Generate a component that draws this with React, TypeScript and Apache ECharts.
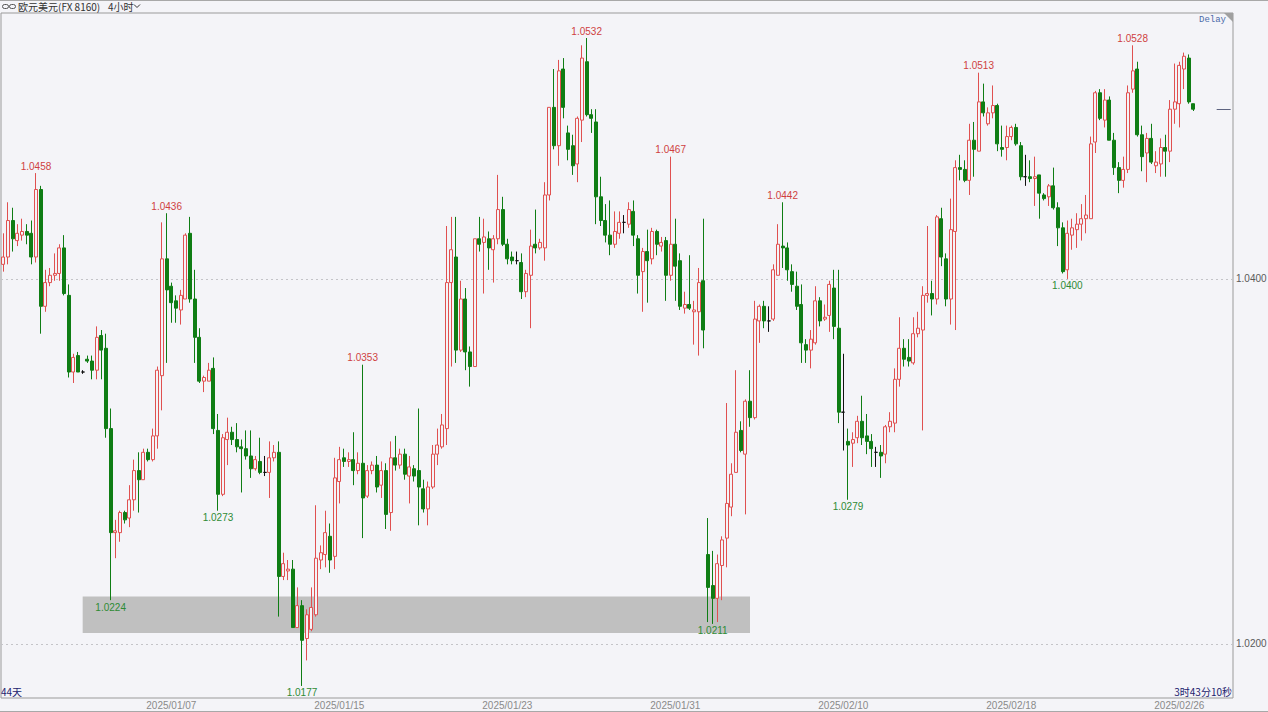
import React, { useEffect, useRef } from "react";
import * as echarts from "echarts";

// Trading days on the axis; each day holds six 4-hour sessions.
const tradingDays = [
  "2024/12/30", "2024/12/31", "2025/01/01", "2025/01/02", "2025/01/03",
  "2025/01/06", "2025/01/07", "2025/01/08", "2025/01/09", "2025/01/10",
  "2025/01/13", "2025/01/14", "2025/01/15", "2025/01/16", "2025/01/17",
  "2025/01/20", "2025/01/21", "2025/01/22", "2025/01/23", "2025/01/24",
  "2025/01/27", "2025/01/28", "2025/01/29", "2025/01/30", "2025/01/31",
  "2025/02/03", "2025/02/04", "2025/02/05", "2025/02/06", "2025/02/07",
  "2025/02/10", "2025/02/11", "2025/02/12", "2025/02/13", "2025/02/14",
  "2025/02/17", "2025/02/18", "2025/02/19", "2025/02/20", "2025/02/21",
  "2025/02/24", "2025/02/25", "2025/02/26", "2025/02/27",
];
const sessionHours = ["00:00", "04:00", "08:00", "12:00", "16:00", "20:00"];

// EUR/USD 4-hour candles, [open, high, low, close]
const week0 = [
  [1.0408, 1.0425, 1.0404, 1.0412], [1.0412, 1.0442, 1.0408, 1.0432], [1.0432, 1.0439, 1.0415, 1.0422],
  [1.0421, 1.043, 1.0418, 1.0425], [1.0424, 1.0433, 1.0421, 1.0426], [1.0426, 1.043, 1.0419, 1.0424],
  [1.0425, 1.0432, 1.0408, 1.0412], [1.0412, 1.0458, 1.0409, 1.0449], [1.0449, 1.0451, 1.037, 1.0385],
  [1.0385, 1.0405, 1.0382, 1.0398], [1.0398, 1.0406, 1.0396, 1.0402], [1.0402, 1.0414, 1.0399, 1.0403],
  [1.0403, 1.0419, 1.0399, 1.0417], [1.0417, 1.0424, 1.0391, 1.0392], [1.0391, 1.0397, 1.0346, 1.0349],
  [1.0349, 1.0359, 1.0343, 1.0357], [1.0358, 1.036, 1.0349, 1.0349], [1.0349, 1.035, 1.0348, 1.0349],
  [1.0356, 1.0358, 1.0354, 1.0355], [1.0355, 1.0358, 1.0345, 1.035], [1.035, 1.0374, 1.0345, 1.0368],
  [1.0369, 1.0372, 1.0345, 1.0361], [1.0362, 1.037, 1.0313, 1.0318], [1.0318, 1.0329, 1.0224, 1.0261],
  [1.0261, 1.0268, 1.0247, 1.0262], [1.0261, 1.0273, 1.0256, 1.0272], [1.0272, 1.0273, 1.0266, 1.0268],
  [1.0269, 1.0287, 1.0264, 1.0279], [1.0279, 1.0301, 1.0273, 1.0295], [1.0295, 1.0305, 1.0272, 1.029],
];
const week1 = [
  [1.029, 1.0307, 1.029, 1.0305], [1.0305, 1.0307, 1.03, 1.0301], [1.0301, 1.0318, 1.03, 1.0314],
  [1.0314, 1.0352, 1.0307, 1.035], [1.0347, 1.0431, 1.0328, 1.0411], [1.0411, 1.0436, 1.0354, 1.0394],
  [1.0396, 1.0398, 1.0376, 1.0387], [1.0388, 1.0391, 1.0376, 1.0384], [1.0383, 1.0394, 1.0375, 1.0391],
  [1.0389, 1.0425, 1.0389, 1.0424], [1.0425, 1.0434, 1.0387, 1.0389], [1.0389, 1.0405, 1.0354, 1.0368],
  [1.0368, 1.0373, 1.0343, 1.0344], [1.0344, 1.0347, 1.0338, 1.0346], [1.0344, 1.0354, 1.0344, 1.035],
  [1.0351, 1.0357, 1.0315, 1.0318], [1.0317, 1.0326, 1.0273, 1.0282], [1.0282, 1.0315, 1.0281, 1.0313],
  [1.0312, 1.0324, 1.0298, 1.0316], [1.0316, 1.0319, 1.0309, 1.0312], [1.0312, 1.0321, 1.0305, 1.0308],
  [1.0308, 1.0312, 1.0283, 1.0307], [1.0307, 1.0317, 1.0301, 1.0303], [1.0303, 1.0317, 1.0291, 1.0296],
  [1.0296, 1.0303, 1.0295, 1.0301], [1.03, 1.0313, 1.0293, 1.0294], [1.0294, 1.0303, 1.0292, 1.0294],
  [1.0294, 1.0311, 1.028, 1.0302], [1.0302, 1.0309, 1.03, 1.0305], [1.0305, 1.0311, 1.0215, 1.0237],
];
const week2 = [
  [1.0237, 1.025, 1.0235, 1.0244], [1.024, 1.0246, 1.0235, 1.0241], [1.0241, 1.0246, 1.0209, 1.0209],
  [1.0209, 1.0231, 1.0209, 1.0221], [1.0221, 1.0224, 1.0177, 1.0202], [1.0203, 1.0219, 1.0191, 1.0216],
  [1.0208, 1.0231, 1.0207, 1.022], [1.0216, 1.0276, 1.0215, 1.0247], [1.0246, 1.0254, 1.0241, 1.025],
  [1.0249, 1.0273, 1.0242, 1.0261], [1.0259, 1.0266, 1.0239, 1.0246], [1.0248, 1.0302, 1.0241, 1.0291],
  [1.0289, 1.0308, 1.0277, 1.0301], [1.0302, 1.0307, 1.0297, 1.03], [1.03, 1.0305, 1.0297, 1.0301],
  [1.0301, 1.0316, 1.0287, 1.0295], [1.0295, 1.0305, 1.0293, 1.0299], [1.0299, 1.0353, 1.0258, 1.028],
  [1.0281, 1.0298, 1.028, 1.0295], [1.0295, 1.03, 1.0293, 1.0298], [1.0298, 1.0303, 1.0283, 1.0286],
  [1.0287, 1.03, 1.028, 1.0295], [1.0295, 1.0299, 1.0263, 1.0271], [1.0272, 1.0311, 1.0262, 1.0302],
  [1.0302, 1.0314, 1.0295, 1.0298], [1.0298, 1.0307, 1.0296, 1.0304], [1.0304, 1.0307, 1.029, 1.0293],
  [1.0292, 1.0303, 1.0277, 1.0297], [1.0296, 1.0298, 1.0289, 1.0292], [1.0295, 1.0329, 1.0265, 1.0286],
];
const week3 = [
  [1.0285, 1.029, 1.0272, 1.0274], [1.0274, 1.0289, 1.0265, 1.0286], [1.0286, 1.0309, 1.0285, 1.0304],
  [1.0304, 1.0318, 1.0298, 1.0309], [1.0308, 1.0326, 1.0307, 1.032], [1.0318, 1.0429, 1.0309, 1.0398],
  [1.0398, 1.0434, 1.0352, 1.0416], [1.0412, 1.0434, 1.0354, 1.0361], [1.0361, 1.0399, 1.036, 1.0389],
  [1.0389, 1.0395, 1.035, 1.036], [1.036, 1.0363, 1.0341, 1.0352], [1.0352, 1.0422, 1.0352, 1.0422],
  [1.0422, 1.0434, 1.0415, 1.0419], [1.042, 1.0433, 1.0392, 1.0423], [1.0422, 1.0426, 1.0405, 1.0417],
  [1.0416, 1.0424, 1.0398, 1.0422], [1.0422, 1.0457, 1.0419, 1.0438], [1.0438, 1.0445, 1.0418, 1.0419],
  [1.0419, 1.0422, 1.0408, 1.0411], [1.0412, 1.0415, 1.0408, 1.041], [1.041, 1.0415, 1.0408, 1.041],
  [1.0409, 1.0414, 1.0389, 1.0393], [1.0393, 1.0405, 1.039, 1.0403], [1.0402, 1.0427, 1.0373, 1.0418],
  [1.0419, 1.0438, 1.0414, 1.0417], [1.0417, 1.0422, 1.0416, 1.042], [1.0417, 1.0453, 1.041, 1.0446],
  [1.0446, 1.0494, 1.0443, 1.0494], [1.0494, 1.0515, 1.0471, 1.0473], [1.0473, 1.052, 1.0462, 1.0514],
];
const week4 = [
  [1.0515, 1.0521, 1.0488, 1.0494], [1.048, 1.0484, 1.0465, 1.0471], [1.0473, 1.0479, 1.0457, 1.0462],
  [1.0463, 1.0489, 1.0453, 1.0488], [1.0487, 1.0528, 1.0475, 1.0521], [1.0519, 1.0532, 1.0489, 1.049],
  [1.049, 1.0493, 1.048, 1.0488], [1.0486, 1.0493, 1.043, 1.0445], [1.0445, 1.0456, 1.0429, 1.0432],
  [1.0432, 1.0441, 1.042, 1.0424], [1.0424, 1.0443, 1.0413, 1.0419], [1.0419, 1.0437, 1.0417, 1.0426],
  [1.0425, 1.0437, 1.0422, 1.0431], [1.0431, 1.0435, 1.0425, 1.0431], [1.043, 1.0442, 1.0428, 1.0438],
  [1.0437, 1.0443, 1.0418, 1.0424], [1.0422, 1.0424, 1.0392, 1.0402], [1.0404, 1.0417, 1.0382, 1.0415],
  [1.0415, 1.0427, 1.0387, 1.041], [1.0411, 1.0428, 1.0408, 1.0426], [1.0426, 1.0427, 1.0413, 1.0419],
  [1.0418, 1.0423, 1.0415, 1.042], [1.0421, 1.0423, 1.0388, 1.0402], [1.0402, 1.0467, 1.0399, 1.0419],
  [1.0419, 1.0433, 1.0388, 1.0407], [1.041, 1.0414, 1.0383, 1.0385], [1.0384, 1.0393, 1.0381, 1.0386],
  [1.0386, 1.0413, 1.0383, 1.0384], [1.0382, 1.0388, 1.0364, 1.0383], [1.0382, 1.0406, 1.0358, 1.0398],
];
const week5 = [
  [1.0399, 1.0433, 1.0362, 1.0372], [1.0249, 1.0269, 1.0212, 1.0231], [1.0232, 1.0251, 1.0211, 1.0225],
  [1.0225, 1.0249, 1.0212, 1.0244], [1.0243, 1.0259, 1.0224, 1.0257], [1.0258, 1.0332, 1.0242, 1.0277],
  [1.0275, 1.0299, 1.027, 1.0293], [1.0294, 1.035, 1.0294, 1.0316], [1.0317, 1.0322, 1.0305, 1.0306],
  [1.0304, 1.0334, 1.0271, 1.0333], [1.0333, 1.035, 1.0319, 1.0324], [1.0324, 1.0388, 1.0323, 1.0378],
  [1.0377, 1.0386, 1.0365, 1.0385], [1.0385, 1.0388, 1.0373, 1.0377], [1.0377, 1.0385, 1.0371, 1.0377],
  [1.0378, 1.0408, 1.0377, 1.0405], [1.0402, 1.043, 1.0402, 1.0419], [1.0418, 1.0442, 1.0406, 1.0417],
  [1.0417, 1.042, 1.0399, 1.0405], [1.0404, 1.0408, 1.0393, 1.0397], [1.0396, 1.0404, 1.0383, 1.0385],
  [1.0386, 1.0397, 1.0354, 1.0365], [1.0364, 1.0367, 1.0354, 1.0361], [1.0361, 1.0372, 1.0351, 1.0367],
  [1.0365, 1.0396, 1.0364, 1.0388], [1.0388, 1.039, 1.0374, 1.0377], [1.0378, 1.0386, 1.0377, 1.0379],
  [1.038, 1.0399, 1.0371, 1.0397], [1.0395, 1.0405, 1.0367, 1.0374], [1.0373, 1.0405, 1.0321, 1.0327],
];
const week6 = [
  [1.0327, 1.0359, 1.0306, 1.0327], [1.0311, 1.0318, 1.0279, 1.0309], [1.031, 1.0316, 1.0297, 1.0312],
  [1.0313, 1.0325, 1.031, 1.0322], [1.0322, 1.0336, 1.0309, 1.0313], [1.0314, 1.0326, 1.0304, 1.0311],
  [1.0311, 1.0315, 1.0297, 1.0307], [1.0305, 1.0308, 1.0297, 1.0305], [1.0305, 1.0309, 1.0291, 1.0303],
  [1.0304, 1.032, 1.0299, 1.0319], [1.0319, 1.0327, 1.0316, 1.0322], [1.0321, 1.0351, 1.0316, 1.0345],
  [1.0345, 1.0379, 1.0341, 1.0362], [1.0362, 1.0367, 1.0352, 1.0356], [1.0357, 1.0367, 1.0352, 1.0355],
  [1.0354, 1.0379, 1.0353, 1.037], [1.037, 1.0382, 1.0368, 1.0373], [1.0372, 1.0396, 1.0317, 1.0391],
  [1.0391, 1.0429, 1.0387, 1.0392], [1.0392, 1.0399, 1.038, 1.0389], [1.0389, 1.0435, 1.0386, 1.0434],
  [1.0433, 1.0439, 1.0407, 1.0412], [1.0411, 1.0414, 1.0385, 1.0389], [1.0389, 1.0444, 1.0375, 1.0427],
  [1.0426, 1.0465, 1.0372, 1.0461], [1.0461, 1.0468, 1.0454, 1.046], [1.046, 1.0465, 1.0453, 1.0454],
  [1.0454, 1.0485, 1.0446, 1.0476], [1.0476, 1.0486, 1.0456, 1.0471], [1.047, 1.0513, 1.047, 1.0497],
];
const week7 = [
  [1.0497, 1.0507, 1.0489, 1.0491], [1.0485, 1.0494, 1.0484, 1.0491], [1.0491, 1.0506, 1.0488, 1.0495],
  [1.0495, 1.0496, 1.047, 1.0474], [1.0472, 1.0484, 1.0467, 1.0471], [1.0472, 1.0484, 1.0465, 1.0478],
  [1.0478, 1.0484, 1.0476, 1.0483], [1.0483, 1.0485, 1.0473, 1.0474], [1.0473, 1.0475, 1.0454, 1.0456],
  [1.0456, 1.0468, 1.0451, 1.0456], [1.0456, 1.0465, 1.0453, 1.0455], [1.0455, 1.0467, 1.044, 1.0456],
  [1.0457, 1.0457, 1.0433, 1.0447], [1.0446, 1.0447, 1.0443, 1.0444], [1.0445, 1.0452, 1.044, 1.0451],
  [1.0451, 1.0461, 1.0438, 1.0439], [1.0439, 1.0442, 1.0418, 1.0428], [1.0428, 1.0431, 1.0403, 1.0404],
  [1.0405, 1.0432, 1.04, 1.0425], [1.0424, 1.0433, 1.0416, 1.0428], [1.0427, 1.0436, 1.0417, 1.043],
  [1.043, 1.0441, 1.0421, 1.0433], [1.0433, 1.0446, 1.0425, 1.0435], [1.0433, 1.0478, 1.0433, 1.0474],
  [1.0475, 1.0503, 1.0469, 1.0502], [1.0502, 1.0504, 1.0487, 1.0488], [1.0487, 1.0504, 1.0483, 1.0498],
  [1.0498, 1.05, 1.0476, 1.0476], [1.0476, 1.048, 1.0457, 1.0461], [1.0461, 1.0464, 1.0447, 1.0454],
];
const week8 = [
  [1.0454, 1.0467, 1.045, 1.046], [1.046, 1.0506, 1.0458, 1.0502], [1.0504, 1.0528, 1.0502, 1.0514],
  [1.0515, 1.0519, 1.0478, 1.0479], [1.0479, 1.0484, 1.0459, 1.0467], [1.0469, 1.048, 1.0453, 1.0477],
  [1.0477, 1.0485, 1.0463, 1.0464], [1.0462, 1.047, 1.0458, 1.0464], [1.0463, 1.0477, 1.0456, 1.0472],
  [1.0472, 1.0479, 1.0456, 1.047], [1.047, 1.0498, 1.0464, 1.0493], [1.0493, 1.0518, 1.0485, 1.0497],
  [1.0496, 1.0519, 1.0483, 1.0517], [1.0515, 1.0524, 1.0504, 1.0522], [1.0521, 1.0523, 1.0496, 1.0497],
  [1.0496, 1.0496, 1.0492, 1.0493],
];

// Candles whose high / low is annotated
const swingHighs = [7, 35, 77, 125, 143, 167, 209, 242];
const swingLows = [23, 46, 64, 152, 181, 228];

// Support zone and reference price levels
const supportZone = { from: 17, to: 160, top: 1.0226, bottom: 1.0206 };
const priceLevels = [1.04, 1.02];

const BG = "#f4f4f8";
const UP = "#e05050";
const DOWN = "#0f7d14";
const LABEL_UP = "#cf3f3f";
const LABEL_DOWN = "#2e8b34";
const NAVY = "#23236e";

const ohlc = [...week0, ...week1, ...week2, ...week3, ...week4, ...week5, ...week6, ...week7, ...week8];
const categories = tradingDays.flatMap((d) => sessionHours.map((h) => `${d} ${h}`));
const lastClose = ohlc[ohlc.length - 1][3];

function buildOption(): echarts.EChartsOption {
  const candleData = ohlc.map(([o, h, l, c]) => [o, c, l, h]);
  const swingPoints = [
    ...swingHighs.map((k) => ({
      coord: [k, ohlc[k][1]],
      value: ohlc[k][1],
      label: { position: "top" as const, color: LABEL_UP, distance: 2 },
    })),
    ...swingLows.map((k) => ({
      coord: [k, ohlc[k][2]],
      value: ohlc[k][2],
      label: { position: "bottom" as const, color: LABEL_DOWN, distance: 2 },
    })),
  ];
  const lastSlot = categories.length - 1;

  return {
    animation: false,
    backgroundColor: BG,
    grid: {
      left: 1,
      right: 35,
      top: 13,
      bottom: 14,
      show: true,
      borderColor: "#9a9a9a",
      borderWidth: 1,
      backgroundColor: "transparent",
    },
    xAxis: {
      type: "category",
      data: categories,
      boundaryGap: true,
      axisLine: { show: false },
      axisTick: { show: false },
      splitLine: { show: false },
      axisLabel: {
        interval: (index: number) => index > 0 && index % 36 === 0,
        formatter: (v: string) => v.slice(0, 10),
        color: "#8a8a8a",
        fontSize: 10,
        fontFamily: "Liberation Sans",
        margin: 2,
      },
    },
    yAxis: {
      type: "value",
      position: "right",
      min: 1.01704,
      max: 1.05457,
      axisLine: { show: false },
      axisTick: { show: false },
      axisLabel: { show: false },
      splitLine: { show: false },
    },
    series: [
      {
        type: "candlestick",
        data: candleData,
        barWidth: 3.4,
        z: 2,
        itemStyle: {
          color: BG,
          color0: DOWN,
          borderColor: UP,
          borderColor0: DOWN,
          borderColorDoji: "#111111",
          borderWidth: 1,
        },
        markArea: {
          silent: true,
          z: 1,
          itemStyle: { color: "#c0c0c0", opacity: 1 },
          data: [
            [
              { coord: [supportZone.from, supportZone.top] },
              { coord: [supportZone.to, supportZone.bottom] },
            ],
          ] as any,
        },
        markLine: {
          silent: true,
          z: 1,
          symbol: "none",
          animation: false,
          data: [
            ...priceLevels.map((v) => ({
              yAxis: v,
              lineStyle: { color: "#c4c4c8", type: [2, 3] as any, width: 1 },
              label: {
                show: true,
                position: "end" as const,
                distance: 3,
                formatter: () => v.toFixed(4),
                color: "#5a5a5a",
                fontSize: 10,
                fontFamily: "Liberation Sans",
              },
            })),
            [
              {
                coord: [lastSlot - 3, lastClose],
                lineStyle: { color: "#5d6380", type: "solid" as const, width: 1 },
                label: { show: false },
              },
              { coord: [lastSlot, lastClose] },
            ],
          ] as any,
        },
        markPoint: {
          silent: true,
          symbol: "circle",
          symbolSize: 0,
          label: {
            show: true,
            fontSize: 10,
            fontFamily: "Liberation Sans",
            formatter: (p: any) => Number(p.value).toFixed(4),
          },
          data: swingPoints as any,
        },
      },
    ],
    graphic: [
      { type: "line", shape: { x1: 0, y1: 0.5, x2: 1268, y2: 0.5 }, style: { stroke: "#a8a8a8" }, silent: true },
      { type: "line", shape: { x1: 0, y1: 711.5, x2: 1268, y2: 711.5 }, style: { stroke: "#a8a8a8" }, silent: true },
      { type: "rect", shape: { x: 2.5, y: 4.5, width: 6, height: 4, r: 2 }, style: { fill: "none", stroke: "#555", lineWidth: 1 } },
      { type: "rect", shape: { x: 9.5, y: 4.5, width: 6, height: 4, r: 2 }, style: { fill: "none", stroke: "#555", lineWidth: 1 } },
      {
        type: "text",
        x: 18,
        y: 6.5,
        style: { text: "欧元美元(FX 8160)", font: '10px "Noto Sans CJK SC"', fill: "#333", textVerticalAlign: "middle" },
      },
      {
        type: "text",
        x: 108,
        y: 6.5,
        style: { text: "4小时", font: '10px "Noto Sans CJK SC"', fill: "#333", textVerticalAlign: "middle" },
      },
      { type: "polyline", shape: { points: [[134, 4.5], [137, 7.5], [140, 4.5]] }, style: { stroke: "#333", fill: "none", lineWidth: 1 } },
      { type: "polygon", shape: { points: [[1224, 13], [1233, 13], [1233, 22]] }, style: { fill: "#a0a0a0" }, silent: true },
      {
        type: "text",
        x: 1226,
        y: 20,
        style: { text: "Delay", font: '9px "Liberation Mono"', fill: "#4a6aa8", textAlign: "right", textVerticalAlign: "middle" },
      },
      {
        type: "text",
        x: 1,
        y: 691,
        style: { text: "44天", font: '10px "Noto Sans CJK SC"', fill: NAVY, textVerticalAlign: "middle" },
      },
      {
        type: "text",
        x: 1232,
        y: 691,
        style: { text: "3时43分10秒", font: '10px "Noto Sans CJK SC"', fill: NAVY, textAlign: "right", textVerticalAlign: "middle" },
      },
    ],
  };
}

export default function App() {
  const ref = useRef<HTMLDivElement>(null);
  useEffect(() => {
    document.body.style.margin = "0";
    if (!ref.current) return;
    const chart = echarts.init(ref.current, null, { renderer: "svg" });
    chart.setOption(buildOption());
    return () => chart.dispose();
  }, []);
  return <div ref={ref} style={{ width: 1268, height: 712 }} />;
}
